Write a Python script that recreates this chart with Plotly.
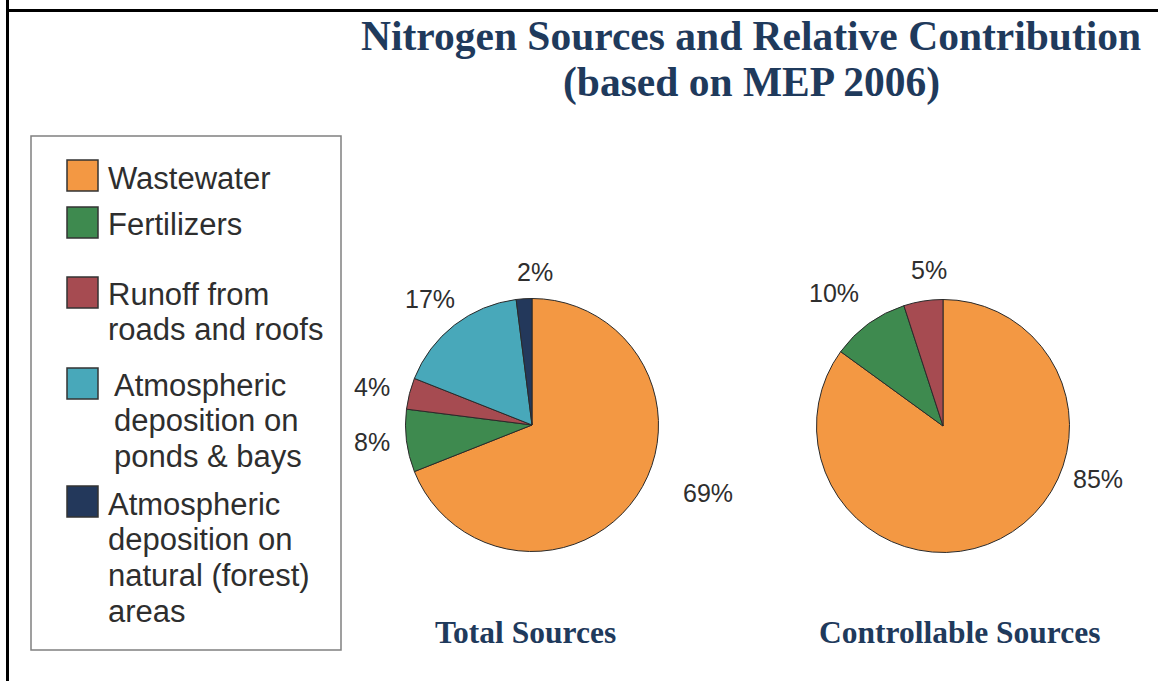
import textwrap
import plotly.graph_objects as go

# ---------------- data ----------------
categories = [
    "Wastewater",
    "Fertilizers",
    "Runoff from roads and roofs",
    "Atmospheric deposition on ponds & bays",
    "Atmospheric deposition on natural (forest) areas",
]
total_values = [69, 8, 4, 17, 2]
controllable_categories = ["Wastewater", "Fertilizers", "Runoff from roads and roofs"]
controllable_values = [85, 10, 5]
pie_titles = ["Total Sources", "Controllable Sources"]
title_lines = ["Nitrogen Sources and Relative Contribution", "(based on MEP 2006)"]

# ---------------- style / layout ----------------
colors = ["#F39843", "#3E8A4F", "#A64B51", "#48A8BA", "#23385B"]
color_of = dict(zip(categories, colors))
W, H = 1158, 681
NAVY = "#1F3A5C"
TXT = "#2E2E2E"


def px(x):
    return x / W


def py(y):
    return 1 - y / H


pie_geom = [(532, 425, 126.5), (943, 426, 126.5)]
label_pos_total = [(708, 493), (372, 442), (372, 387), (430, 299), (535, 272)]
label_pos_ctrl = [(1098, 479), (834, 293), (929, 270)]
legend_box = (31, 136, 341, 650)
swatch_tops = [160, 207, 277, 368, 486]
text_x = [106, 106, 106, 112, 106]
first_baselines = [189, 235, 305, 396, 515]
LINE_STEP = 35.7
LEG_FS = 31
TITLE_FS = 41.5
SUB_FS = 31.5
title_baselines = [50, 97]

fig = go.Figure()

for (cx, cy, r), labs, vals in zip(
    pie_geom,
    [categories, controllable_categories],
    [total_values, controllable_values],
):
    fig.add_trace(
        go.Pie(
            labels=labs,
            values=vals,
            marker=dict(colors=[color_of[l] for l in labs], line=dict(color="#2A2A2A", width=1)),
            sort=False,
            direction="clockwise",
            rotation=0,
            textinfo="none",
            hoverinfo="label+percent",
            showlegend=False,
            domain=dict(x=[px(cx - r), px(cx + r)], y=[py(cy + r), py(cy - r)]),
        )
    )

annotations = []
shapes = []

# frame edges (top and left, as in the reference)
shapes.append(dict(type="rect", xref="paper", yref="paper",
                   x0=px(6), y0=py(12), x1=1.0, y1=py(9),
                   line=dict(width=0), fillcolor="black", layer="above"))
shapes.append(dict(type="rect", xref="paper", yref="paper",
                   x0=px(6), y0=0.0, x1=px(9), y1=1.0,
                   line=dict(width=0), fillcolor="black", layer="above"))

for line, base in zip(title_lines, title_baselines):
    annotations.append(dict(text=f"<b>{line}</b>", x=px(751), y=py(base - 0.3375 * TITLE_FS),
                            xref="paper", yref="paper", showarrow=False,
                            xanchor="center", yanchor="middle",
                            font=dict(family="Liberation Serif, Times New Roman, serif",
                                      size=TITLE_FS, color=NAVY)))

for t, cx in zip(pie_titles, [525, 960]):
    annotations.append(dict(text=f"<b>{t}</b>", x=px(cx), y=py(643 - 0.3375 * SUB_FS),
                            xref="paper", yref="paper", showarrow=False,
                            xanchor="center", yanchor="middle",
                            font=dict(family="Liberation Serif, Times New Roman, serif",
                                      size=SUB_FS, color=NAVY)))

for vals, poss in [(total_values, label_pos_total), (controllable_values, label_pos_ctrl)]:
    for v, (lx, ly) in zip(vals, poss):
        annotations.append(dict(text=f"{v}%", x=px(lx), y=py(ly),
                                xref="paper", yref="paper", showarrow=False,
                                xanchor="center", yanchor="middle",
                                font=dict(family="Liberation Sans, Arial, sans-serif",
                                          size=25, color=TXT)))

lx0, ly0, lx1, ly1 = legend_box
shapes.append(dict(type="rect", xref="paper", yref="paper",
                   x0=px(lx0), y0=py(ly0), x1=px(lx1), y1=py(ly1),
                   line=dict(color="#808080", width=1.5), fillcolor="white"))

for cat, top, tx, base in zip(categories, swatch_tops, text_x, first_baselines):
    shapes.append(dict(type="rect", xref="paper", yref="paper",
                       x0=px(67), y0=py(top), x1=px(98), y1=py(top + 31),
                       line=dict(color="#333333", width=1.5), fillcolor=color_of[cat]))
    for i, line in enumerate(textwrap.wrap(cat, 16)):
        b = base + i * LINE_STEP
        annotations.append(dict(text=line, x=px(tx), y=py(b - 0.3465 * LEG_FS),
                                xref="paper", yref="paper", showarrow=False,
                                xanchor="left", yanchor="middle",
                                font=dict(family="Liberation Sans, Arial, sans-serif",
                                          size=LEG_FS, color=TXT)))

fig.update_layout(
    width=W,
    height=H,
    margin=dict(l=0, r=0, t=0, b=0),
    paper_bgcolor="white",
    plot_bgcolor="white",
    shapes=shapes,
    annotations=annotations,
)

fig.write_html(
    "out.html",
    config={"displayModeBar": False},
    post_script="document.body.style.margin='0';document.body.style.overflow='hidden';",
)
